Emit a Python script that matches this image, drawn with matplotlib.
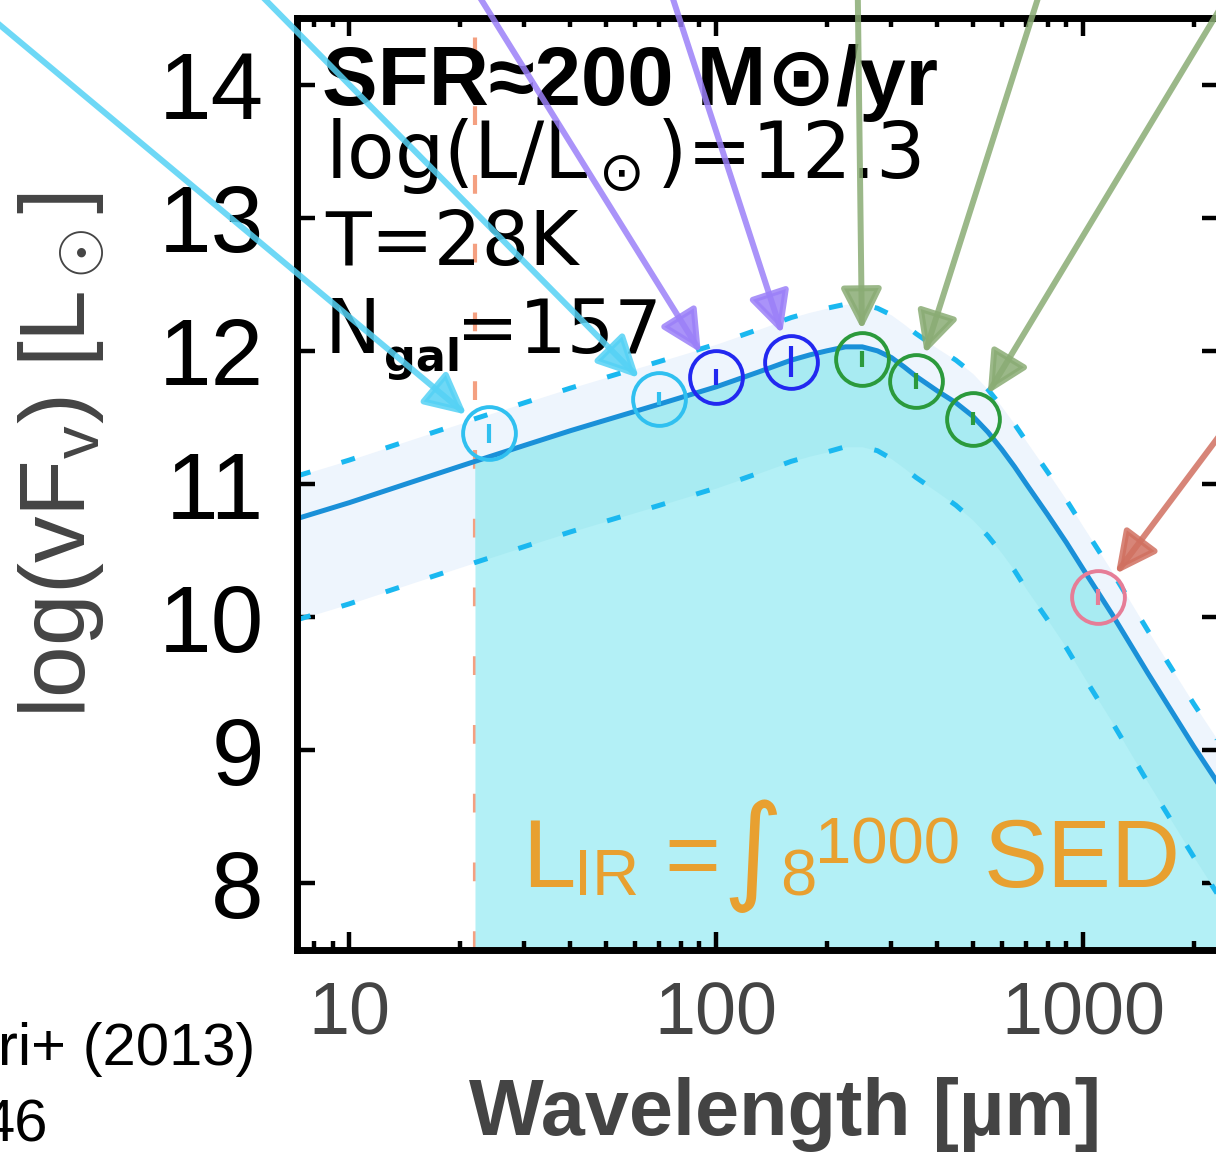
import matplotlib

matplotlib.use("Agg")
import matplotlib.pyplot as plt
import numpy as np

# ---- data ------------------------------------------------------------------
# model SED (solid) and its upper / lower envelopes (dashed), log(nu F_nu) [Lsun]
LAM_MODEL = [7.2, 10, 15, 22, 30, 40, 50, 70, 100, 130, 160, 180, 200, 225, 250,
             275, 300, 325, 350, 400, 450, 500, 550, 600, 650, 700, 800, 900,
             1000, 1200, 1500, 2000, 2400]
SED_MID = [10.74, 10.86, 11.02, 11.17, 11.29, 11.40, 11.48, 11.60, 11.73, 11.84,
           11.93, 11.97, 12.00, 12.03, 12.03, 12.00, 11.95, 11.88, 11.81, 11.70,
           11.61, 11.51, 11.39, 11.26, 11.13, 11.00, 10.77, 10.56, 10.36, 10.02,
           9.58, 9.03, 8.70]
SED_UP = [11.06, 11.18, 11.34, 11.49, 11.61, 11.72, 11.80, 11.92, 12.05, 12.16,
          12.25, 12.29, 12.32, 12.35, 12.35, 12.32, 12.27, 12.20, 12.13, 12.02,
          11.93, 11.83, 11.71, 11.58, 11.45, 11.32, 11.09, 10.88, 10.68, 10.34,
          9.90, 9.35, 9.02]
SED_LO = [9.98, 10.10, 10.26, 10.41, 10.53, 10.64, 10.72, 10.84, 10.97, 11.08,
          11.17, 11.21, 11.24, 11.28, 11.28, 11.25, 11.19, 11.12, 11.05, 10.94,
          10.84, 10.73, 10.61, 10.48, 10.35, 10.21, 9.98, 9.77, 9.56, 9.21,
          8.76, 8.20, 7.86]
LIR_FROM = 22  # start of the shaded integral / orange dashed marker

# stacked photometry
LAM_PHOT = [24, 70, 100, 160, 250, 350, 500, 1100]
LOG_PHOT = [11.38, 11.64, 11.80, 11.92, 11.94, 11.77, 11.49, 10.15]
ERR_PHOT = [0.07, 0.05, 0.06, 0.12, 0.06, 0.06, 0.05, 0.06]
PHOT_COLORS = ["#30c0f0", "#30c0f0", "#2228f0", "#2228f0",
               "#2b9a3c", "#2b9a3c", "#2b9a3c", "#e67d97"]

# arrow tails (data coords, outside the visible crop) -> photometry points
ARROW_TAIL_LAM = [0.598, 4.03, 18.0, 67.3, 242, 849, 3083, 3899]
ARROW_TAIL_LOG = [15.07, 15.10, 15.10, 15.10, 15.10, 15.10, 15.10, 12.17]
ARROW_COLORS = ["#55d2f5", "#55d2f5", "#9b80f8", "#9b80f8",
                "#8aac74", "#8aac74", "#8aac74", "#d07060"]

Y_TICKS = [8, 9, 10, 11, 12, 13, 14]
X_TICKS = [10, 100, 1000]
X_TICK_LABELS = ["10", "100", "1000"]

W, H = 1216, 1156
AX_L, AX_R, AX_T, AX_B = 297, 1220, 18, 950
ORANGE = "#e8a030"


def ax_frac(px: float, py: float) -> tuple[float, float]:
    return (px - AX_L) / (AX_R - AX_L), (AX_B - py) / (AX_B - AX_T)


def main() -> None:
    plt.rcParams["mathtext.fontset"] = "custom"
    plt.rcParams["mathtext.rm"] = "Liberation Sans"
    plt.rcParams["mathtext.it"] = "Liberation Sans:italic"
    plt.rcParams["mathtext.bf"] = "Liberation Sans:bold"
    plt.rcParams["font.family"] = ["Liberation Sans", "DejaVu Sans"]

    fig = plt.figure(figsize=(W / 100, H / 100), dpi=100)
    ax = fig.add_axes([AX_L / W, 1 - AX_B / H, (AX_R - AX_L) / W, (AX_B - AX_T) / H])

    lam = np.array(LAM_MODEL, dtype=float)
    mid = np.array(SED_MID)
    up = np.array(SED_UP)
    lo = np.array(SED_LO)
    sel = lam >= LIR_FROM

    ax.fill_between(lam, lo, up, color="#eef5fd", lw=0, zorder=1)
    ax.axvline(LIR_FROM, color="#f4a081", lw=3, ls=(0, (4.5, 12)), zorder=1.2)
    ax.fill_between(lam[sel], 7.0, mid[sel], color="#b3f0f6", lw=0, zorder=1.5)
    ax.fill_between(lam[sel], lo[sel], mid[sel], color="#a8ebf2", lw=0, zorder=1.6)

    for env in (up, lo):
        ax.plot(lam, env, color="#1ab8f0", lw=3.6, ls=(0, (2.8, 6.5)), zorder=2)
    ax.plot(lam, mid, color="#1a90d8", lw=3.6, zorder=2.2)

    for x, y, e, c in zip(LAM_PHOT, LOG_PHOT, ERR_PHOT, PHOT_COLORS):
        ax.plot(x, y, "o", ms=38, mfc="none", mec=c, mew=2.8, zorder=3)
        ax.errorbar(x, y, yerr=e, fmt="none", ecolor=c, elinewidth=3, capsize=0, zorder=3)

    ax.set_xscale("log")
    ax.set_xlim(7.2, 2360)
    ax.set_ylim(7.5, 14.5)
    ax.set_xticks(X_TICKS)
    ax.set_xticklabels(X_TICK_LABELS)
    ax.set_yticks(Y_TICKS)
    ax.yaxis.set_minor_locator(matplotlib.ticker.NullLocator())
    ax.tick_params(which="both", direction="in", top=True, right=True,
                   width=3.2, color="black")
    ax.tick_params(which="major", length=13)
    ax.tick_params(which="minor", length=6.5)
    ax.tick_params(axis="y", labelsize=68, labelcolor="black", pad=24)
    ax.tick_params(axis="x", labelsize=53, labelcolor="#444444", pad=22)
    for sp in ax.spines.values():
        sp.set_linewidth(5)

    # annotation block, upper left
    txt = dict(transform=ax.transAxes, ha="left", va="baseline", zorder=4)
    ax.text(*ax_frac(322, 105), "SFR≈200 M⊙/yr", fontsize=60, fontweight="bold", **txt)
    ax.text(*ax_frac(325, 178), r"log(L/L$_\odot$)=12.3", fontsize=56,
            family="DejaVu Sans", math_fontfamily="dejavusans", **txt)
    ax.text(*ax_frac(325, 265), "T=28K", fontsize=54, family="DejaVu Sans", **txt)
    ax.text(*ax_frac(325, 353), "N", fontsize=54, family="DejaVu Sans", **txt)
    ax.text(*ax_frac(384, 371), "gal", fontsize=32, fontweight="bold",
            family="DejaVu Sans", **txt)
    ax.text(*ax_frac(456, 353), "=157", fontsize=54, family="DejaVu Sans", **txt)

    # L_IR = integral_8^1000 SED, built piece by piece
    ax.text(*ax_frac(522, 887), "L", fontsize=69, color=ORANGE, **txt)
    ax.text(*ax_frac(574, 895), "IR", fontsize=47, color=ORANGE, **txt)
    ax.text(*ax_frac(664, 887), "=", fontsize=69, color=ORANGE, **txt)
    ax.text(*ax_frac(722, 888), "∫", fontsize=84, color=ORANGE,
            family="DejaVu Sans", **txt)
    ax.text(*ax_frac(780, 895), "8", fontsize=47, color=ORANGE, **txt)
    ax.text(*ax_frac(815, 863), "1000", fontsize=47, color=ORANGE, **txt)
    ax.text(*ax_frac(984, 887), "SED", fontsize=69, color=ORANGE, **txt)

    for tx, ty, x, y, c in zip(ARROW_TAIL_LAM, ARROW_TAIL_LOG, LAM_PHOT, LOG_PHOT, ARROW_COLORS):
        ax.annotate(
            "", xy=(x, y), xytext=(tx, ty), annotation_clip=False, zorder=5,
            arrowprops=dict(arrowstyle="-|>,head_length=1.0,head_width=0.5",
                            mutation_scale=25, lw=4.3, color=c, alpha=0.85,
                            shrinkA=0, shrinkB=21),
        )

    fig.text(0.051, 0.606, r"log(vF$_\mathregular{v}$) [L$_\odot$]", rotation=90,
             ha="center", va="center", fontsize=67, color="#444444")
    fig.text(785 / W, 1 - 1135 / H, "Wavelength [µm]", ha="center", va="baseline",
             fontsize=57, fontweight="bold", color="#444444")
    fig.text(255 / W, 1 - 1065 / H, "ri+ (2013)", ha="right", va="baseline", fontsize=43)
    fig.text(48 / W, 1 - 1142 / H, "46", ha="right", va="baseline", fontsize=43)

    fig.savefig("out.png", dpi=100)
    plt.close(fig)


if __name__ == "__main__":
    main()
